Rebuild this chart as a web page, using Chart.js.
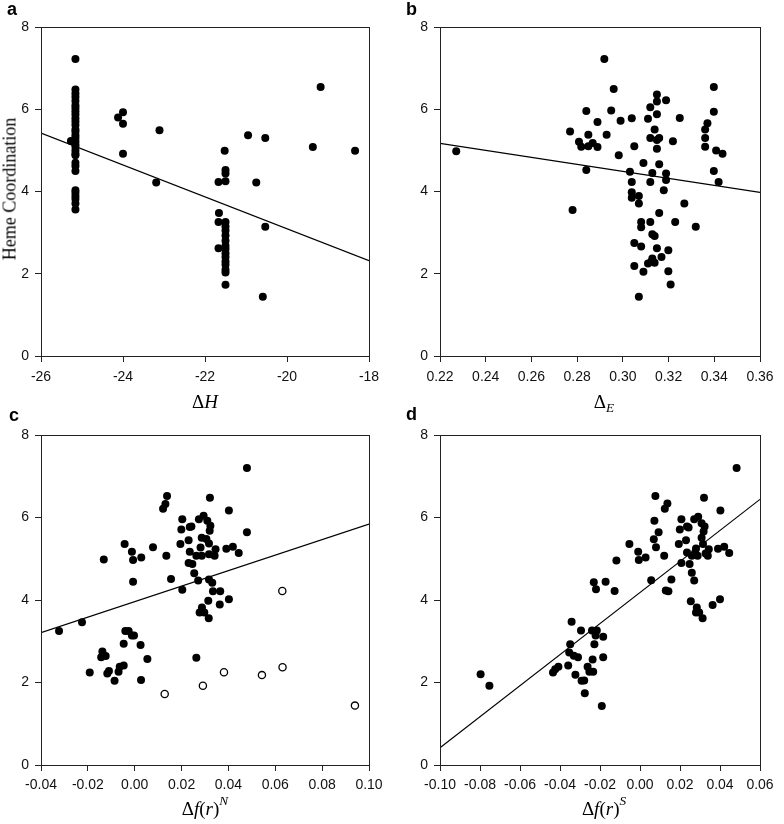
<!DOCTYPE html>
<html>
<head>
<meta charset="utf-8">
<script src="https://cdn.jsdelivr.net/npm/chart.js@4"></script>
<style>
body { margin: 0; background: #fff; }
#wrap { position: relative; width: 784px; height: 824px; overflow: hidden; }
canvas { position: absolute; }
.lbl { position: absolute; font-family: Arial, "Liberation Sans", sans-serif; font-weight: bold; font-size: 18px; line-height: 18px; color: #000; }
.ttl { position: absolute; font-family: "Times New Roman", "Liberation Serif", serif; font-size: 19px; line-height: 19px; color: #000; white-space: nowrap; transform: translateX(-50%); }
.ttl sup, .ttl sub { font-size: 0.7em; position: relative; vertical-align: baseline; }
.ttl sup { top: -0.75em; }
.ttl sub { top: 0.3em; }
#ylab { position: absolute; left: 10px; top: 189px; font-family: "Times New Roman", "Liberation Serif", serif; font-size: 18px; white-space: nowrap; transform: translate(-50%, -50%) rotate(-90deg); }
</style>
</head>
<body>
<div id="wrap">
  <canvas id="ca" width="392" height="400" style="left:0;top:0"></canvas>
  <canvas id="cb" width="392" height="400" style="left:392px;top:0"></canvas>
  <canvas id="cc" width="392" height="424" style="left:0;top:400px"></canvas>
  <canvas id="cd" width="392" height="424" style="left:392px;top:400px"></canvas>
  <div class="lbl" style="left:7px;top:0">a</div>
  <div class="lbl" style="left:406px;top:0">b</div>
  <div class="lbl" style="left:9px;top:406px">c</div>
  <div class="lbl" style="left:406px;top:405px">d</div>
  <div id="ylab">Heme Coordination</div>
  <div class="ttl" style="left:205px;top:392px">&Delta;<i>H</i></div>
  <div class="ttl" style="left:604px;top:392px">&Delta;<sub><i>E</i></sub></div>
  <div class="ttl" style="left:205px;top:799px">&Delta;<i>f</i>(<i>r</i>)<sup><i>N</i></sup></div>
  <div class="ttl" style="left:604px;top:799px">&Delta;<i>f</i>(<i>r</i>)<sup><i>S</i></sup></div>
</div>
<script>
const yTicks = [0, 2, 4, 6, 8];

// a: heme coordination vs dH
const aTicks = [-26, -24, -22, -20, -18];
const aPts = [
  [-25.16,7.22],[-25.16,6.48],[-25.16,6.38],[-25.16,6.30],[-25.16,6.20],[-25.16,6.10],[-25.16,6.03],[-25.16,5.95],
  [-25.16,5.87],[-25.16,5.78],[-25.16,5.70],[-25.16,5.62],[-25.16,5.51],[-25.16,5.45],[-25.16,5.37],[-25.16,5.30],
  [-25.16,5.22],[-25.16,5.15],[-25.16,5.09],[-25.16,5.00],[-25.16,4.92],[-25.16,4.88],[-25.16,4.70],[-25.16,4.62],
  [-25.16,4.50],[-25.16,4.03],[-25.16,3.97],[-25.16,3.89],[-25.16,3.82],[-25.16,3.71],[-25.16,3.56],[-25.27,5.23],
  [-24.12,5.80],[-24.00,5.93],[-24.00,5.65],[-24.00,4.92],[-23.11,5.49],[-23.19,4.22],
  [-21.66,3.48],[-21.67,3.26],[-21.67,2.62],[-21.67,4.23],[-21.52,4.99],[-21.50,4.52],[-21.50,4.44],[-21.50,4.25],
  [-21.50,3.26],[-21.50,3.15],[-21.50,3.05],[-21.50,2.93],[-21.50,2.80],[-21.50,2.68],[-21.50,2.60],[-21.50,2.50],
  [-21.50,2.41],[-21.50,2.30],[-21.50,2.22],[-21.50,2.10],[-21.50,2.03],[-21.50,1.73],
  [-20.95,5.37],[-20.75,4.22],[-20.53,5.30],[-20.53,3.14],[-20.59,1.44],[-19.37,5.08],[-19.18,6.54],[-18.34,4.99]
];
const aFit = [[-26, 5.42], [-18, 2.32]];

// b: heme coordination vs dE
const bTicks = [0.22, 0.24, 0.26, 0.28, 0.30, 0.32, 0.34, 0.36];
const bPts = [
  [0.2271,4.98],[0.2769,5.46],[0.2780,3.55],[0.2808,5.21],[0.2818,5.09],[0.2840,5.96],[0.2840,4.52],[0.2849,5.38],
  [0.2849,5.10],[0.2868,5.18],[0.2889,5.69],[0.2889,5.08],[0.2919,7.22],[0.2929,5.38],[0.2949,5.97],[0.2960,6.49],
  [0.2982,4.88],[0.2990,5.72],[0.3031,4.48],[0.3039,5.78],[0.3039,4.23],[0.3039,3.98],[0.3039,3.85],[0.3050,5.10],
  [0.3050,2.75],[0.3050,2.19],[0.3070,3.89],[0.3070,3.71],[0.3070,1.44],[0.3080,3.26],[0.3080,3.13],[0.3080,2.66],
  [0.3090,4.69],[0.3090,2.05],[0.3110,5.77],[0.3110,2.25],[0.3120,6.05],[0.3120,5.30],[0.3120,4.23],[0.3120,3.26],
  [0.3124,2.29],[0.3129,4.45],[0.3129,2.96],[0.3129,2.37],[0.3139,5.51],[0.3139,2.92],[0.3139,2.27],[0.3149,6.36],
  [0.3149,6.19],[0.3149,5.88],[0.3149,5.25],[0.3149,5.04],[0.3149,2.62],[0.3159,5.30],[0.3159,4.66],[0.3159,3.48],
  [0.3169,2.41],[0.3179,4.03],[0.3189,6.22],[0.3189,4.44],[0.3189,4.28],[0.3199,2.57],[0.3199,2.06],[0.3209,1.74],
  [0.3219,5.22],[0.3229,3.26],[0.3249,5.79],[0.3269,3.71],[0.3319,3.14],[0.3360,5.30],[0.3360,5.09],[0.3360,5.51],
  [0.3370,5.66],[0.3398,6.54],[0.3398,5.94],[0.3398,4.50],[0.3408,5.00],[0.3419,4.23],[0.3436,4.92]
];
const bFit = [[0.22, 5.17], [0.36, 3.98]];

// c: heme coordination vs df(r)N, open circles = outliers
const cTicks = [-0.04, -0.02, 0.00, 0.02, 0.04, 0.06, 0.08, 0.10];
const cPts = [
  [-0.0323,3.25],[-0.0225,3.46],[-0.0192,2.24],[-0.0143,2.61],[-0.0138,2.75],[-0.0124,2.64],[-0.0132,4.98],[-0.0117,2.22],
  [-0.0110,2.28],[-0.0086,2.04],[-0.0069,2.26],[-0.0064,2.38],[-0.0047,2.41],[-0.0047,2.94],[-0.0043,5.36],[-0.0040,3.25],
  [-0.0026,3.25],[-0.0012,3.14],[-0.0012,5.17],[-0.0007,4.97],[-0.0007,4.44],[-0.0003,3.14],[0.0025,2.91],[0.0027,2.06],
  [0.0028,5.03],[0.0054,2.57],[0.0078,5.28],[0.0121,6.21],[0.0131,6.33],[0.0138,6.52],[0.0135,5.07],[0.0155,4.51],
  [0.0199,5.71],[0.0195,5.36],[0.0203,5.96],[0.0203,4.25],[0.0230,5.45],[0.0235,5.77],[0.0242,5.78],[0.0235,5.17],
  [0.0230,4.90],[0.0246,4.87],[0.0254,4.65],[0.0263,5.07],[0.0271,4.47],[0.0263,2.60],[0.0274,5.96],[0.0281,5.27],
  [0.0286,5.51],[0.0286,5.07],[0.0287,3.82],[0.0277,3.70],[0.0294,6.04],[0.0297,3.70],[0.0306,5.48],[0.0310,5.92],
  [0.0314,3.98],[0.0316,3.56],[0.0317,4.50],[0.0317,5.11],[0.0321,6.48],[0.0323,5.80],[0.0320,5.68],[0.0317,5.37],
  [0.0331,4.42],[0.0334,4.21],[0.0341,5.07],[0.0345,5.23],[0.0363,3.89],[0.0365,4.21],[0.0391,5.24],[0.0402,4.02],
  [0.0402,6.17],[0.0419,5.29],[0.0444,5.14],[0.0479,7.20],[0.0479,5.64]
];
const cOpen = [[0.0128,1.72],[0.0291,1.92],[0.0381,2.25],[0.0543,2.18],[0.0630,4.22],[0.0631,2.37],[0.0940,1.44]];
const cFit = [[-0.04, 3.21], [0.10, 5.84]];

// d: heme coordination vs df(r)S
const dTicks = [-0.10, -0.08, -0.06, -0.04, -0.02, 0.00, 0.02, 0.04, 0.06];
const dPts = [
  [-0.0797,2.20],[-0.0753,1.92],[-0.0435,2.24],[-0.0424,2.32],[-0.0408,2.38],[-0.0359,2.41],[-0.0354,2.73],[-0.0349,2.93],
  [-0.0342,3.47],[-0.0331,2.65],[-0.0323,2.19],[-0.0310,2.61],[-0.0295,3.26],[-0.0292,2.04],[-0.0279,2.05],[-0.0276,1.74],
  [-0.0262,2.38],[-0.0253,2.26],[-0.0240,3.26],[-0.0237,2.56],[-0.0234,2.26],[-0.0231,4.43],[-0.0228,2.93],[-0.0222,3.14],
  [-0.0220,4.26],[-0.0216,3.26],[-0.0191,1.43],[-0.0184,3.11],[-0.0184,2.61],[-0.0172,4.44],[-0.0127,4.22],[-0.0118,4.96],
  [-0.0053,5.36],[-0.0009,5.17],[-0.0006,4.97],[0.0028,5.03],[0.0056,4.48],[0.0069,5.47],[0.0072,5.92],[0.0077,6.52],
  [0.0080,5.28],[0.0093,5.64],[0.0121,5.07],[0.0124,6.21],[0.0137,6.34],[0.0129,4.23],[0.0142,4.21],[0.0157,4.50],
  [0.0194,5.36],[0.0199,5.71],[0.0207,5.96],[0.0207,4.90],[0.0230,5.45],[0.0235,5.78],[0.0243,5.76],[0.0235,5.15],
  [0.0248,4.87],[0.0254,3.97],[0.0259,4.66],[0.0271,4.47],[0.0259,5.07],[0.0271,5.96],[0.0276,5.15],[0.0280,5.25],
  [0.0280,3.70],[0.0284,3.82],[0.0291,6.02],[0.0288,5.07],[0.0296,3.70],[0.0308,5.86],[0.0308,5.51],[0.0313,3.56],
  [0.0315,5.36],[0.0320,6.48],[0.0323,5.78],[0.0318,5.66],[0.0328,5.13],[0.0339,5.07],[0.0344,5.23],[0.0363,3.88],
  [0.0390,5.24],[0.0400,4.02],[0.0402,6.17],[0.0421,5.29],[0.0446,5.14],[0.0483,7.20]
];
const dFit = [[-0.10, 0.42], [0.06, 6.44]];

const tickFont = { family: 'Arial, "Liberation Sans", sans-serif', size: 14 };
const axisCol = '#222';
const xy = p => ({ x: p[0], y: p[1] });

const frame = {
  id: 'frame',
  afterDraw(chart) {
    const { ctx, chartArea: a } = chart;
    ctx.save();
    ctx.strokeStyle = axisCol;
    ctx.lineWidth = 1;
    ctx.strokeRect(Math.round(a.left) + 0.5, Math.round(a.top) + 0.5,
      Math.round(a.right - a.left), Math.round(a.bottom - a.top));
    ctx.restore();
  }
};

function panel(id, pts, open, fit, xt, digits, p) {
  const sets = [
    { data: fit.map(xy), showLine: true, borderColor: '#000', borderWidth: 1.2, pointRadius: 0, order: 2 },
    { data: pts.map(xy), pointRadius: 4, backgroundColor: '#000', borderWidth: 0, order: 1 }
  ];
  if (open) sets.push({ data: open.map(xy), pointRadius: 3.6, backgroundColor: '#fff', borderColor: '#000', borderWidth: 1.3, order: 1 });
  new Chart(document.getElementById(id), {
    type: 'scatter',
    data: { datasets: sets },
    options: {
      responsive: false, animation: false, events: [],
      plugins: { legend: { display: false }, tooltip: { enabled: false } },
      layout: { padding: { top: p.top, right: p.right, left: 0, bottom: 0 } },
      scales: {
        x: {
          type: 'linear', min: xt[0], max: xt[xt.length - 1],
          afterBuildTicks: ax => { ax.ticks = xt.map(v => ({ value: v })); },
          afterFit: ax => { ax.height = p.xh; },
          grid: { drawOnChartArea: false, tickLength: 6, color: axisCol },
          border: { color: axisCol },
          ticks: { font: tickFont, color: '#111', padding: p.xpad, autoSkip: false, maxRotation: 0,
            callback: v => v.toFixed(digits) }
        },
        y: {
          type: 'linear', min: 0, max: 8,
          afterBuildTicks: ax => { ax.ticks = yTicks.map(v => ({ value: v })); },
          afterFit: ax => { ax.width = p.yw; },
          grid: { drawOnChartArea: false, tickLength: 6, color: axisCol },
          border: { color: axisCol },
          ticks: { font: tickFont, color: '#111', padding: 6, callback: v => String(v) }
        }
      }
    },
    plugins: [frame]
  });
}

panel('ca', aPts, null, aFit, aTicks, 0, { top: 27, right: 23, yw: 41, xh: 44, xpad: 7 });
panel('cb', bPts, null, bFit, bTicks, 2, { top: 27, right: 24, yw: 48, xh: 44, xpad: 7 });
panel('cc', cPts, cOpen, cFit, cTicks, 2, { top: 35, right: 23, yw: 41, xh: 59, xpad: 6 });
panel('cd', dPts, null, dFit, dTicks, 2, { top: 35, right: 24, yw: 48, xh: 59, xpad: 6 });
</script>
</body>
</html>
